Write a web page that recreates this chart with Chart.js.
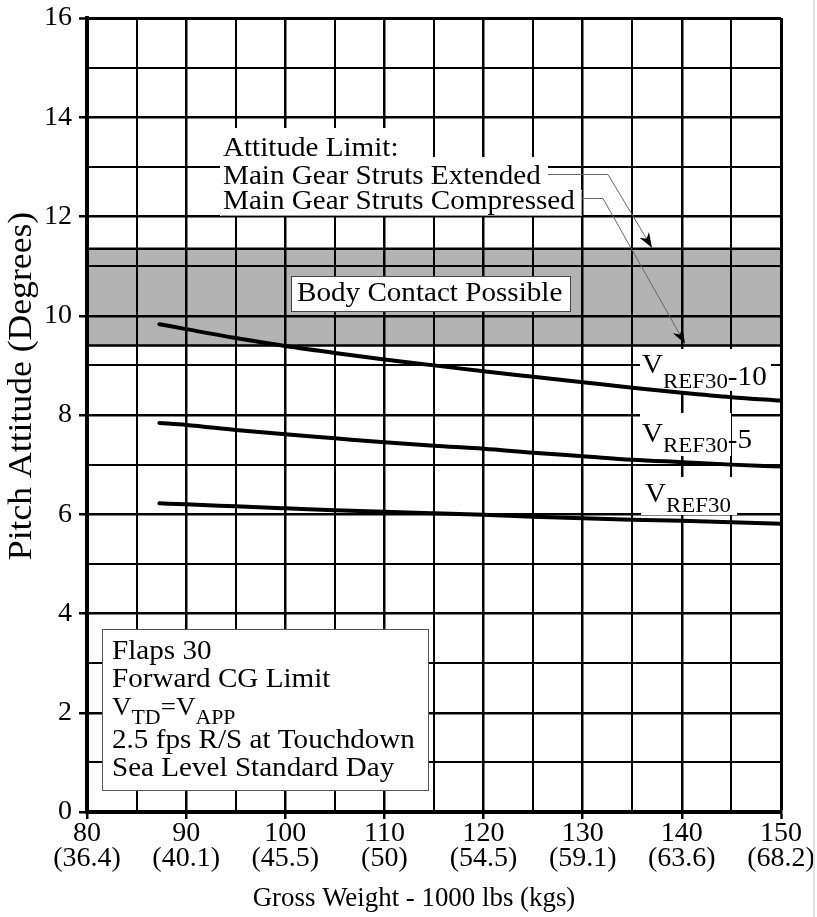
<!DOCTYPE html>
<html><head><meta charset="utf-8">
<script src="https://cdn.jsdelivr.net/npm/chart.js@4/dist/chart.umd.min.js"></script>
<style>html,body{margin:0;padding:0;background:#fff;overflow:hidden}canvas{display:block}</style>
</head><body>
<canvas id="c" width="817" height="917"></canvas>
<script>
// ---- data ----
const grossWeight   = [87.3, 90, 95, 100, 105, 110, 115, 120, 125, 130, 135, 140, 145, 150];
const vref30Minus10 = [9.83, 9.73, 9.55, 9.39, 9.25, 9.12, 9.00, 8.88, 8.77, 8.66, 8.55, 8.45, 8.36, 8.29];
const vref30Minus5  = [7.84, 7.80, 7.70, 7.61, 7.53, 7.45, 7.38, 7.32, 7.24, 7.17, 7.10, 7.05, 7.00, 6.96];
const vref30        = [6.22, 6.20, 6.16, 6.12, 6.08, 6.05, 6.02, 5.99, 5.95, 5.92, 5.89, 5.87, 5.84, 5.81];
const xTickLbs = [80, 90, 100, 110, 120, 130, 140, 150];
const xTickKgs = ['(36.4)', '(40.1)', '(45.5)', '(50)', '(54.5)', '(59.1)', '(63.6)', '(68.2)'];
const yTickLabels = [0, 2, 4, 6, 8, 10, 12, 14, 16];
const bodyContactBand = [9.4, 11.35];
const xTitle = 'Gross Weight - 1000 lbs (kgs)';
const yTitle = 'Pitch Attitude (Degrees)';
const infoLines = ['Flaps 30', 'Forward CG Limit', 'VTD=VAPP', '2.5 fps R/S at Touchdown', 'Sea Level Standard Day'];
const limitLines = ['Attitude Limit:', 'Main Gear Struts Extended', 'Main Gear Struts Compressed'];

const SERIF = '"Liberation Serif", "Times New Roman", serif';
const SX = 1.04;
const FS = 28;

function txt(ctx, s, x, y, size, sx) {
  sx = sx || 1;
  ctx.save();
  ctx.font = size + 'px ' + SERIF;
  ctx.textAlign = 'left';
  ctx.textBaseline = 'alphabetic';
  ctx.fillStyle = '#000';
  const w = ctx.measureText(s).width * sx;
  ctx.translate(x, y);
  ctx.scale(sx, 1);
  ctx.fillText(s, 0, 0);
  ctx.restore();
  return w;
}
function rich(ctx, parts, x, y, sx) {
  let cx = x;
  for (const p of parts) cx += txt(ctx, p[0], cx, y + (p[2] || 0), p[1], sx);
}
function whiteBox(ctx, x0, y0, x1, y1, stroke) {
  ctx.save();
  ctx.fillStyle = '#fff';
  ctx.fillRect(x0, y0, x1 - x0, y1 - y0);
  if (stroke) { ctx.strokeStyle = stroke; ctx.lineWidth = 1; ctx.strokeRect(x0 + 0.5, y0 + 0.5, x1 - x0 - 1, y1 - y0 - 1); }
  ctx.restore();
}
function arrow(ctx, pts, tip) {
  ctx.save();
  ctx.strokeStyle = '#666'; ctx.lineWidth = 1;
  ctx.beginPath();
  ctx.moveTo(pts[0][0], pts[0][1]);
  for (let i = 1; i < pts.length; i++) ctx.lineTo(pts[i][0], pts[i][1]);
  ctx.lineTo(tip[0], tip[1]);
  ctx.stroke();
  const last = pts[pts.length - 1];
  const a = Math.atan2(tip[1] - last[1], tip[0] - last[0]);
  const L = 15, W = 5.5;
  ctx.fillStyle = '#000';
  ctx.beginPath();
  ctx.moveTo(tip[0], tip[1]);
  ctx.lineTo(tip[0] - L * Math.cos(a) + W * Math.sin(a), tip[1] - L * Math.sin(a) - W * Math.cos(a));
  ctx.lineTo(tip[0] - L * 0.7 * Math.cos(a), tip[1] - L * 0.7 * Math.sin(a));
  ctx.lineTo(tip[0] - L * Math.cos(a) - W * Math.sin(a), tip[1] - L * Math.sin(a) + W * Math.cos(a));
  ctx.closePath();
  ctx.fill();
  ctx.restore();
}

const decor = {
  id: 'decor',
  beforeDraw(chart) {
    const ctx = chart.ctx, a = chart.chartArea, y = chart.scales.y;
    const yTop = y.getPixelForValue(bodyContactBand[1]);
    const yBot = y.getPixelForValue(bodyContactBand[0]);
    ctx.save();
    ctx.fillStyle = '#b3b3b3';
    ctx.fillRect(a.left, yTop, a.right - a.left, yBot - yTop);
    ctx.strokeStyle = '#000'; ctx.lineWidth = 2.5;
    ctx.beginPath();
    ctx.moveTo(a.left, yTop); ctx.lineTo(a.right, yTop);
    ctx.moveTo(a.left, yBot); ctx.lineTo(a.right, yBot);
    ctx.stroke();
    ctx.restore();
  },
  beforeDatasetsDraw(chart) {
    const ctx = chart.ctx, y = chart.scales.y;
    const yTop = y.getPixelForValue(bodyContactBand[1]);
    const yBot = y.getPixelForValue(bodyContactBand[0]);
    // Attitude limit block
    whiteBox(ctx, 220, 128, 403, 158);
    whiteBox(ctx, 220, 157, 548, 191);
    whiteBox(ctx, 220, 190, 582, 216);
    ctx.save(); ctx.strokeStyle = '#999'; ctx.lineWidth = 1;
    ctx.beginPath(); ctx.moveTo(221, 215.5); ctx.lineTo(581.5, 215.5); ctx.lineTo(581.5, 191); ctx.stroke(); ctx.restore();
    txt(ctx, limitLines[0], 223, 156, FS, SX);
    txt(ctx, limitLines[1], 223, 184, FS, SX);
    txt(ctx, limitLines[2], 223, 209, FS, SX);
    arrow(ctx, [[548, 174.5], [608, 174.5]], [652, yTop - 1]);
    arrow(ctx, [[582, 198.5], [603, 198.5]], [685, yBot - 2]);
    // Body contact box
    whiteBox(ctx, 291, 276, 571, 312, '#444');
    txt(ctx, 'Body Contact Possible', 297, 301, FS, SX);
    // curve labels
    whiteBox(ctx, 640, 349, 771, 391);
    rich(ctx, [['V', 28], ['REF30', 22, 15], ['-10', 28, 12]], 642, 372.5, SX);
    whiteBox(ctx, 640, 413, 731, 456);
    rich(ctx, [['V', 28], ['REF30', 22, 10], ['-5', 28, 6]], 642, 442, SX);
    whiteBox(ctx, 641, 477, 737, 515);
    rich(ctx, [['V', 28], ['REF30', 22, 10]], 645, 502, SX);
    // info box
    whiteBox(ctx, 102, 629, 429, 791, '#555');
    txt(ctx, infoLines[0], 112, 659, FS, SX);
    txt(ctx, infoLines[1], 112, 687, FS, SX);
    rich(ctx, [['V', 26], ['TD', 21, 9], ['=', 26], ['V', 26], ['APP', 21, 9]], 112, 715, SX);
    txt(ctx, infoLines[3], 112, 748, FS, SX);
    txt(ctx, infoLines[4], 112, 776, FS, SX);
  },
  afterDraw(chart) {
    const ctx = chart.ctx;
    ctx.save();
    ctx.fillStyle = '#e0e0e0';
    ctx.fillRect(813, 0, 2, 917);
    ctx.restore();
    // x title
    ctx.save();
    ctx.translate(414, 906);
    ctx.scale(0.96, 1);
    ctx.font = '28px ' + SERIF;
    ctx.fillStyle = '#000';
    ctx.textAlign = 'center';
    ctx.textBaseline = 'alphabetic';
    ctx.fillText(xTitle, 0, 0);
    ctx.restore();
    // y title
    ctx.save();
    ctx.translate(31, 386);
    ctx.rotate(-Math.PI / 2);
    ctx.scale(1.08, 1);
    ctx.font = '33px ' + SERIF;
    ctx.fillStyle = '#000';
    ctx.textAlign = 'center';
    ctx.textBaseline = 'alphabetic';
    ctx.fillText(yTitle, 0, 0);
    ctx.restore();
  }
};

function series(label, ys) {
  return {
    label, data: grossWeight.map((x, i) => ({ x, y: ys[i] })),
    borderColor: '#000', borderWidth: 4, pointRadius: 0, fill: false,
    cubicInterpolationMode: 'monotone', borderCapStyle: 'round', borderJoinStyle: 'round'
  };
}

new Chart(document.getElementById('c'), {
  type: 'line',
  data: { datasets: [
    series('VREF30-10', vref30Minus10),
    series('VREF30-5', vref30Minus5),
    series('VREF30', vref30)
  ] },
  plugins: [decor],
  options: {
    responsive: false, animation: false, events: [],
    layout: { padding: { top: 18, right: 36, left: 0, bottom: 0 } },
    plugins: { legend: { display: false }, tooltip: { enabled: false }, title: { display: false } },
    scales: {
      x: {
        type: 'linear', min: 80, max: 150,
        afterFit(s) { s.height = 105; s.paddingLeft = 0; s.paddingRight = 0; },
        ticks: {
          stepSize: 5, autoSkip: false, maxRotation: 0, minRotation: 0, color: '#000', padding: 2,
          font: { family: SERIF, size: 28, lineHeight: 0.9 },
          callback(v) { const i = xTickLbs.indexOf(v); return i < 0 ? '' : [String(xTickLbs[i]), xTickKgs[i]]; }
        },
        grid: {
          color: '#000', tickLength: 7, tickWidth: 2.5,
          lineWidth: c => (c.tick && c.tick.value === 150) ? 3 : (c.tick && c.tick.value % 10 === 0 ? 2.5 : 2),
          tickColor: c => (c.tick && xTickLbs.includes(c.tick.value)) ? '#000' : 'rgba(0,0,0,0)'
        },
        border: { color: '#000', width: 4 },
        title: { display: false }
      },
      y: {
        type: 'linear', min: 0, max: 16,
        afterFit(s) { s.width = 87; s.paddingTop = 0; s.paddingBottom = 0; },
        ticks: {
          stepSize: 1, autoSkip: false, color: '#000', padding: 7,
          font: { family: SERIF, size: 28 },
          callback(v) { return yTickLabels.includes(v) ? String(v) : ''; }
        },
        grid: {
          color: '#000', tickLength: 8, tickWidth: 2.5,
          lineWidth: c => (c.tick && c.tick.value === 16) ? 3 : (c.tick && c.tick.value % 2 === 0 ? 2.5 : 2),
          tickColor: c => (c.tick && yTickLabels.includes(c.tick.value)) ? '#000' : 'rgba(0,0,0,0)'
        },
        border: { color: '#000', width: 4 },
        title: { display: false }
      }
    }
  }
});
</script>
</body></html>
